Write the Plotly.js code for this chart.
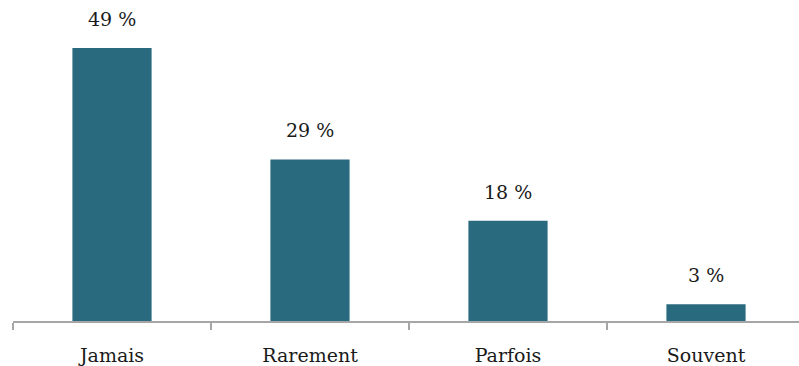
<!DOCTYPE html>
<html>
<head>
<meta charset="utf-8">
<script src="https://cdn.plot.ly/plotly-3.0.1.min.js"></script>
<style>
html,body{margin:0;padding:0;overflow:hidden;background:#fff;}
#chart{width:812px;height:366px;}
</style>
</head>
<body>
<div id="chart"></div>
<script>
const categories = ["Jamais", "Rarement", "Parfois", "Souvent"];
const values = [49, 29, 18, 3];
const valueLabels = values.map(v => v + " %");

const barColor = "#296a7e";
const fontFamily = "DejaVu Serif, Liberation Serif, serif";

const trace = {
  type: "bar",
  x: categories,
  y: values,
  marker: {color: barColor},
  hoverinfo: "none"
};

const annotations = categories.map((c, i) => ({
  x: c, y: values[i], text: valueLabels[i],
  xref: "x", yref: "y", showarrow: false,
  yanchor: "bottom", yshift: 16,
  font: {family: fontFamily, size: 19, color: "#1a1a1a"}
}));

const layout = {
  width: 812, height: 366,
  margin: {l: 13, r: 7, t: 0, b: 45},
  paper_bgcolor: "#fff", plot_bgcolor: "#fff",
  bargap: 0.6,
  showlegend: false,
  xaxis: {
    type: "category",
    showline: true, linecolor: "#a6a6a6", linewidth: 2,
    ticks: "outside", tickson: "boundaries", ticklen: 7, tickwidth: 2, tickcolor: "#a6a6a6",
    tickfont: {family: fontFamily, size: 19, color: "#1a1a1a"},
    ticklabelstandoff: 16,
    showgrid: false, zeroline: false
  },
  yaxis: {
    range: [0, 57.6],
    visible: false, showgrid: false, zeroline: false
  },
  annotations: annotations
};

Plotly.newPlot("chart", [trace], layout, {displayModeBar: false, staticPlot: true});
</script>
</body>
</html>
